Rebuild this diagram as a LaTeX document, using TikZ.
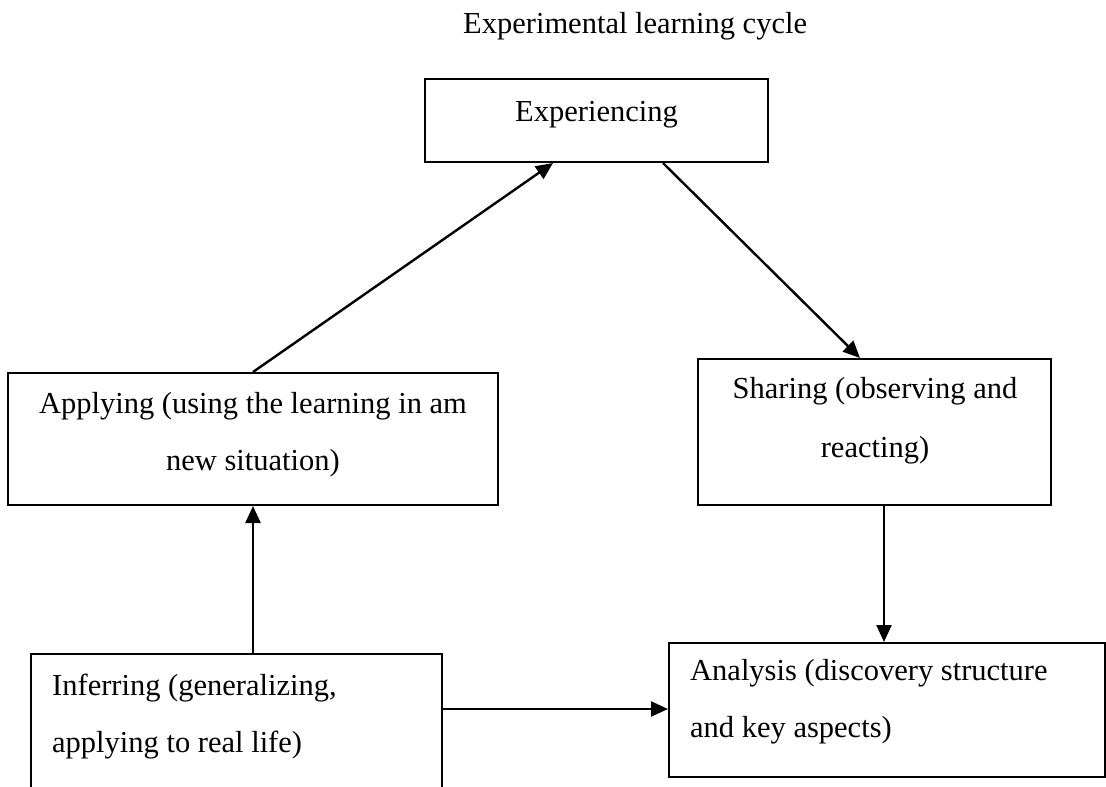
\documentclass[tikz,border=0pt]{standalone}
\usepackage{fontspec}
\setmainfont{Liberation Serif}
\usetikzlibrary{arrows.meta}
\begin{document}
\begin{tikzpicture}[x=1pt,y=-1pt,
  box/.style={draw, line width=2pt, rectangle, inner sep=0pt},
  txt/.style={font=\fontsize{30.5}{57}\selectfont, inner sep=0pt},
  conn/.style={line width=2.4pt, -{Triangle[length=17pt,width=15pt]}}]
\useasboundingbox (0,0) rectangle (1106,787);
\clip (0,0) rectangle (1106,787);
% boxes
\node[box, minimum width=343pt, minimum height=83pt]  (exp) at (596.5,120.5) {};
\node[box, minimum width=490pt, minimum height=132pt] (app) at (253,439) {};
\node[box, minimum width=353pt, minimum height=146pt] (sha) at (874.5,432) {};
\node[box, minimum width=411pt, minimum height=176pt] (inf) at (236.5,742) {};
\node[box, minimum width=436pt, minimum height=134pt] (ana) at (887,710) {};
% texts
\node[txt, anchor=base west] (title) at (463,33) {Experimental learning cycle};
\node[txt, anchor=base] (texp) at (596.5,121) {Experiencing};
\node[txt, anchor=base, align=center] (tapp) at (253,470) {Applying (using the learning in am\\new situation)};
\node[txt, anchor=base, align=center, font=\fontsize{30.5}{59}\selectfont] (tsha) at (875,457) {Sharing (observing and\\reacting)};
\node[txt, anchor=base west, align=left] (tinf) at (52,752) {Inferring (generalizing,\\applying to real life)};
\node[txt, anchor=base west, align=left] (tana) at (690,737) {Analysis (discovery structure\\and key aspects)};
% connectors
\draw[conn] (app.north) -- ([xshift=-43.5pt]exp.south);
\draw[conn] ([xshift=66.5pt]exp.south) -- ([xshift=-14.5pt]sha.north);
\draw[conn] (inf.north -| app.south) -- (app.south);
\draw[conn] ([xshift=9.5pt]sha.south) coordinate (s1) -- (s1 |- ana.north);
\draw[conn] ([yshift=33pt]inf.east) coordinate (i1) -- (i1 -| ana.west);
\end{tikzpicture}
\end{document}
